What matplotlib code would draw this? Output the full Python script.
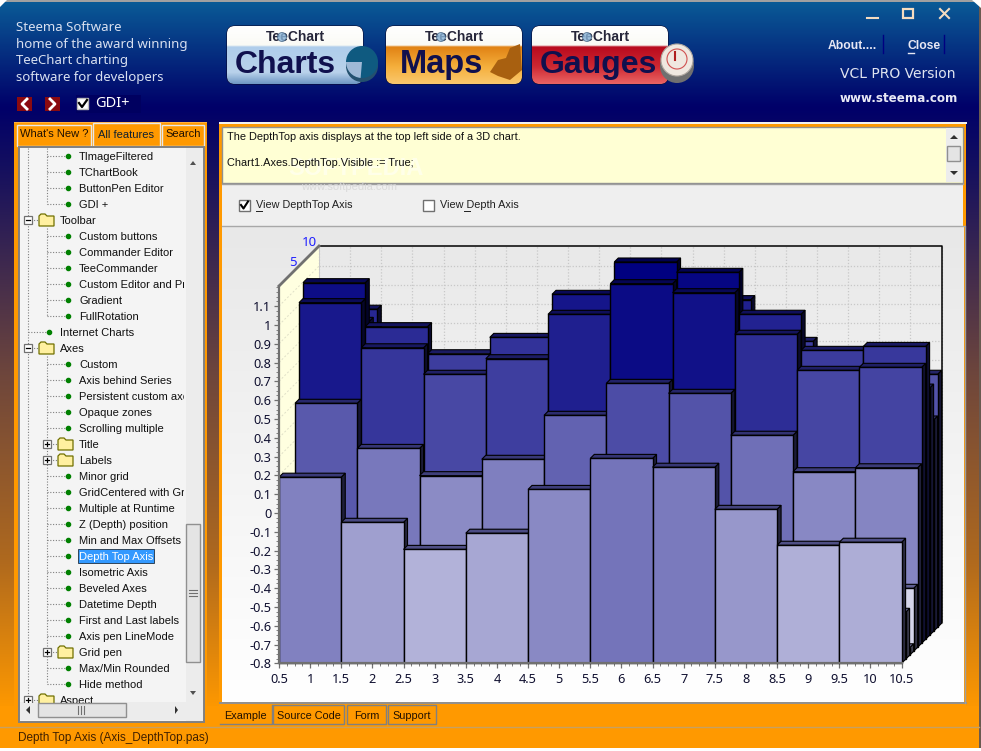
import numpy as np
import matplotlib
matplotlib.use("Agg")
import matplotlib.pyplot as plt
from matplotlib.colors import LinearSegmentedColormap, Normalize
from matplotlib.patches import Rectangle, Polygon, FancyBboxPatch, Circle, Wedge
from matplotlib.ticker import MultipleLocator, FuncFormatter

plt.rcParams['font.family'] = ['Liberation Sans', 'DejaVu Sans']

nan = float('nan')

# bar heights per depth row, front row first (nan = hidden behind the front rows)
row0 = [0.19, -0.05, -0.194, -0.108, 0.125, 0.29, 0.243, 0.019, -0.172, -0.156]
row1 = [nan, nan, nan, nan, nan, nan, nan, nan, nan, -0.55]
row2 = [nan, nan, nan, nan, nan, nan, nan, nan, nan, -0.76]
row3 = [nan, nan, nan, nan, nan, nan, nan, nan, nan, -0.465]
row4 = [0.498, 0.258, 0.113, 0.2, 0.434, 0.604, 0.551, 0.328, 0.134, 0.155]
row5 = [1.012, 0.772, 0.631, 0.714, 0.95, 1.113, 1.065, 0.844, 0.652, 0.668]
row6 = [1.097, 0.863, 0.719, 0.806, 1.035, 1.207, 1.152, 0.929, 0.737, 0.758]
row7 = [0.87, nan, nan, nan, nan, nan, nan, nan, nan, 0.515]
row8 = [nan, nan, nan, nan, nan, nan, nan, nan, nan, 0.324]
row9 = [0.892, nan, nan, nan, nan, nan, 0.943, 0.721, nan, 0.546]
rows = [row0, row1, row2, row3, row4, row5, row6, row7, row8, row9]
depth_labels = ["5", "10"]

header_lines = ["Steema Software", "home of the award winning", "TeeChart charting", "software for developers"]
tab_labels = ["What's New ?", "All features", "Search"]
page_labels = ["Example", "Source Code", "Form", "Support"]

tree_labels = ["TImageFiltered", "TChartBook", "ButtonPen Editor", "GDI +", "Toolbar", "Custom buttons",
               "Commander Editor", "TeeCommander", "Custom Editor and Preview", "Gradient", "FullRotation",
               "Internet Charts", "Axes", "Custom", "Axis behind Series", "Persistent custom axes",
               "Opaque zones", "Scrolling multiple", "Title", "Labels", "Minor grid", "GridCentered with Grid",
               "Multiple at Runtime", "Z (Depth) position", "Min and Max Offsets", "Depth Top Axis",
               "Isometric Axis", "Beveled Axes", "Datetime Depth", "First and Last labels",
               "Axis pen LineMode", "Grid pen", "Max/Min Rounded", "Hide method", "Aspect"]
folder_open = ["Toolbar", "Axes"]
folder_closed = ["Title", "Labels", "Grid pen", "Aspect"]
level_one = ["Toolbar", "Internet Charts", "Axes", "Aspect"]

W, H = 981, 751
fig = plt.figure(figsize=(W / 100, H / 100), dpi=100, facecolor='white')
ui = fig.add_axes([0, 0, 1, 1])
ui.set_xlim(0, W)
ui.set_ylim(H, 0)
ui.axis('off')


def vgrad(x0, x1, y0, y1, stops, zorder=1.5, clip=None):
    pos = [s[0] for s in stops]
    cols = np.array([s[1] for s in stops], dtype=float) / 255
    t = np.linspace(0, 1, 256)
    img = np.stack([np.interp(t, pos, cols[:, i]) for i in range(3)], axis=1)[:, None, :]
    im = ui.imshow(img, extent=(x0, x1, y1, y0), aspect='auto', zorder=zorder, interpolation='bilinear')
    if clip is not None:
        im.set_clip_path(clip)
    ui.set_xlim(0, W)
    ui.set_ylim(H, 0)


def rect(x0, y0, x1, y1, fc, ec='none', lw=1, z=1):
    ui.add_patch(Rectangle((x0, y0), x1 - x0, y1 - y0, fc=fc, ec=ec, lw=lw, zorder=z))


def label(x, y, s, size=8, color='#101010', z=5, **kw):
    kw.setdefault('va', 'center')
    return ui.text(x, y + 0.5, s, fontsize=size, color=color, zorder=z, **kw)


# window background
vgrad(0, 979, 1, 748, [(0, (10, 90, 150)), (0.14, (0, 0, 105)), (0.22, (20, 15, 95)),
                       (0.5, (110, 70, 60)), (0.75, (175, 105, 30)), (0.95, (255, 153, 0)),
                       (1, (255, 153, 0))], zorder=0.5)
rect(979, 0, 981, 751, '#6a5a50', z=0.6)
rect(0, 0, 981, 1.5, '#a0a0a0', z=0.6)
ui.add_patch(Polygon([(0, 0), (7, 0), (0, 7)], fc='white', ec='none', zorder=0.7))
ui.add_patch(Polygon([(981, 0), (972, 0), (981, 8)], fc='white', ec='none', zorder=0.7))
rect(0, 748, 981, 751, 'white', z=0.7)
rect(0, 706, 979, 748, '#ff9900', z=0.8)
ui.plot([0, 979], [727, 727], color='#c8a060', lw=1, zorder=1)

# header text
for i, s in enumerate(header_lines):
    label(16, 27 + i * 16.7, s, size=9.5, color='#d8e0f0', family='Noto Sans')

# back / forward and GDI+
for x0, pts in [(17, [(27, 99), (22, 104), (27, 109)]), (45, [(50, 99), (55, 104), (50, 109)])]:
    rect(x0, 97, x0 + 15, 111, '#8a0a10')
    ui.plot(*zip(*pts), color='white', lw=2, zorder=3)
rect(76, 95, 141, 113, '#000060')
rect(77, 98, 88, 109, 'white', ec='#bbbbbb')
ui.plot([79, 82, 87], [103, 107, 100], color='black', lw=1.6, zorder=3)
label(95, 103, "GDI+", size=10.5, color='white', family='Noto Sans')


# product buttons
def logo(x0, name, stops, name_x, name_size):
    box = FancyBboxPatch((x0, 26), 136, 58, boxstyle="round,pad=0,rounding_size=8",
                         fc='white', ec='#0a0a30', lw=0.8, zorder=2)
    ui.add_patch(box)
    vgrad(x0, x0 + 136, 26, 84, stops, zorder=2.1, clip=box)
    ui.text(x0 + 68, 37, "TeeChart", fontsize=10, fontweight='bold', color='#26263a', zorder=5, ha='center',
            va='center')
    ui.add_patch(Circle((x0 + 55, 37), 4.5, fc='#8ab4d8', ec='#406080', lw=0.6, zorder=6, alpha=0.8))
    ui.text(x0 + name_x, 65, name, fontsize=name_size, fontweight='bold', color='#10104e', zorder=5, va='center')


logo(227, "Charts", [(0, (255, 255, 255)), (0.33, (250, 250, 245)), (0.36, (175, 205, 235)),
                     (0.8, (185, 210, 235)), (1, (110, 150, 195))], 8, 23)
logo(386, "Maps", [(0, (255, 255, 255)), (0.33, (250, 250, 245)), (0.36, (225, 130, 20)),
                   (0.7, (245, 175, 60)), (1, (250, 200, 110))], 14, 23.5)
logo(532, "Gauges", [(0, (255, 255, 255)), (0.33, (250, 250, 245)), (0.36, (185, 10, 30)),
                     (0.7, (205, 40, 50)), (1, (235, 100, 100))], 8, 23)
# pie on the Charts button
ui.add_patch(Wedge((362, 66), 16, 0, 360, fc='#24506e', ec='none', zorder=4))
ui.add_patch(Wedge((362, 62), 16, 0, 360, fc='#0f5a80', ec='none', zorder=4.1))
ui.add_patch(Wedge((362, 62), 16, 95, 180, fc='#9fb9d6', ec='none', zorder=4.2))
# map shapes on the Maps button
ui.add_patch(Polygon([(490, 72), (498, 60), (506, 58), (510, 48), (520, 44), (522, 70), (510, 80), (498, 76)],
                     fc='#a86010', ec='none', zorder=4))
# gauge on the Gauges button
ui.add_patch(Circle((677, 66), 17, fc='#707070', ec='none', zorder=4))
ui.add_patch(Circle((677, 60), 16, fc='#f0e8e0', ec='#b0a8a0', lw=0.8, zorder=4.1))
ui.add_patch(Circle((677, 59), 10, fc='none', ec='#d05050', lw=0.8, zorder=4.2))
ui.plot([675, 675], [52, 60], color='#b02020', lw=1.5, zorder=4.3)

# window buttons and links
ui.plot([867, 878], [18, 18], color='#f5dcc0', lw=1.5, zorder=5)
ui.add_patch(Rectangle((903, 9), 9.5, 9, fc='none', ec='#f5dcc0', lw=1.6, zorder=5))
ui.plot([940, 949], [9, 18], color='#f5dcc0', lw=1.5, zorder=5)
ui.plot([940, 949], [18, 9], color='#f5dcc0', lw=1.5, zorder=5)
label(828, 45.5, "About....", size=8.7, color='#e8e8f4', fontweight='bold')
label(907, 45.5, "Close", size=8.7, color='#e8e8f4', fontweight='bold')
ui.plot([907.5, 914], [52.5, 52.5], color='#e8e8f4', lw=1, zorder=5)
ui.plot([882.5, 882.5], [35, 53], color='#000080', lw=1, zorder=5)
ui.plot([943.5, 943.5], [35, 53], color='#000080', lw=1, zorder=5)
label(840, 73, "VCL PRO Version", size=10, color='#e0e4f0', family='DejaVu Sans')
label(840, 97.5, "www.steema.com", size=8.6, color='#e8e8f4', fontweight='bold', family='DejaVu Sans')

# left panel
rect(14, 122, 207, 726, '#ff9900', z=1)
rect(14, 122, 207, 123, '#ffb040', z=1.1)
for (x0, x1), s, on in zip([(17, 91), (93, 160), (162, 204)], tab_labels, [False, True, False]):
    rect(x0, 125 - (2 if on else 0), x1, 146, '#ff9900', ec='#e8e8e8', z=1.2)
    label((x0 + x1) / 2, 133.5 if not on else 134, s, size=8, color='#201000' if not on else '#102030', ha='center')
rect(19, 147, 204, 722, '#f4f4f4', ec='#808080', lw=1.4, z=1.3)
rect(186, 148, 203, 721, '#ececec', z=1.4)
rect(20, 702, 186, 720, '#ececec', z=1.4)

tree_clip = Rectangle((20, 148), 164, 555, transform=ui.transData)
for i, s in enumerate(tree_labels):
    y = 156 + 16 * i
    one = s in level_one
    tx = 60 if one else 79
    vx = 28 if one else 47
    t = label(tx, y, s, size=8, color='#101010' if s != "Depth Top Axis" else 'white', z=3)
    t.set_clip_on(True)
    t.set_clip_path(tree_clip)
    ui.plot([vx, tx - 7], [y, y], color='#808080', lw=0.8, ls=(0, (1, 1.5)), zorder=1.6, clip_on=True)
    if s in folder_open or s in folder_closed:
        fx = vx + 11
        ui.add_patch(Polygon([(fx, y - 4), (fx + 2, y - 6), (fx + 6, y - 6), (fx + 8, y - 4), (fx + 15, y - 4),
                              (fx + 15, y + 6), (fx, y + 6)], fc='#fff0a0', ec='#707000', lw=0.9, zorder=2))
        ui.add_patch(Rectangle((vx - 4, y - 4), 8, 8, fc='white', ec='#707070', lw=0.9, zorder=2))
        ui.plot([vx - 2, vx + 2], [y, y], color='black', lw=0.9, zorder=2.1)
        if s in folder_closed:
            ui.plot([vx, vx], [y - 2, y + 2], color='black', lw=0.9, zorder=2.1)
    else:
        ui.plot([tx - 11], [y], 'o', color='#008000', ms=3, zorder=2)
for x, y0, y1 in [(28, 148, 696), (47, 148, 204), (47, 228, 316), (47, 356, 684)]:
    ui.plot([x, x], [y0, y1], color='#808080', lw=0.8, ls=(0, (1, 1.5)), zorder=1.6)
rect(78, 549, 153.5, 563, '#3399ff', ec='#203040', lw=0.6, z=2.5)

# tree scrollbars
ui.add_patch(Polygon([(190, 165), (193, 161), (196, 165)], fc='#505050', ec='none', zorder=4))
ui.add_patch(Polygon([(190, 691), (193, 695), (196, 691)], fc='#505050', ec='none', zorder=4))
rect(186, 524, 200, 662, '#e4e4e4', ec='#909090', z=4)
for y in (590, 593, 596):
    ui.plot([189, 197], [y, y], color='#707070', lw=0.8, zorder=4.1)
rect(20, 703, 184, 720, '#ececec', z=4)
rect(38, 703, 126, 717, '#e4e4e4', ec='#909090', z=4.1)
for x in (78, 81, 84):
    ui.plot([x, x], [706, 714], color='#707070', lw=0.8, zorder=4.2)
ui.add_patch(Polygon([(30, 706), (26, 710), (30, 714)], fc='#303030', ec='none', zorder=4.1))
ui.add_patch(Polygon([(175, 706), (178, 710), (175, 714)], fc='#303030', ec='none', zorder=4.1))
label(18, 738, "Depth Top Axis (Axis_DepthTop.pas)", size=8.5, color='#402000')

# right panel
rect(219, 122, 966, 706, '#ff9900', z=1)
rect(219, 122, 967, 123.5, '#f0f0f0', z=1.1)
rect(222, 127, 963, 183, '#ffffd4', ec='#909090', z=1.2)
rect(946, 128, 962, 182, '#ececec', z=1.3)
rect(947, 146, 960, 161, '#e4e4e4', ec='#909090', z=1.4)
ui.add_patch(Polygon([(950, 139), (954, 135), (958, 139)], fc='#303030', ec='none', zorder=1.5))
ui.add_patch(Polygon([(950, 171), (954, 175), (958, 171)], fc='#303030', ec='none', zorder=1.5))
label(227, 136, "The DepthTop axis displays at the top left side of a 3D chart.", size=7.9)
label(227, 162, "Chart1.Axes.DepthTop.Visible := True;", size=7.9)
label(288, 168, "SOFTPEDIA", size=17, color='#ffffff', fontweight='bold', alpha=0.5, z=4)
rect(222, 184, 963, 226, '#efefef', z=1.2)
ui.plot([222, 963], [183.5, 183.5], color='#a0a0a0', lw=1, zorder=1.3)
label(349, 187, "www.softpedia.com", size=8, color='#d8d8d8', ha='center', alpha=0.9)
for x0, s, checked, ux in [(239, "View DepthTop Axis", True, 255.5), (423, "View Depth Axis", False, 464)]:
    rect(x0, 199.5, x0 + 11, 211, 'white', ec='#707070', z=2)
    if checked:
        ui.plot([x0 + 2, x0 + 4.5, x0 + 9], [205, 208.5, 201.5], color='black', lw=1.5, zorder=3)
    label(x0 + 16.5, 205, s, size=7.8, color='#202020')
    ui.plot([ux, ux + 6], [211, 211], color='#202020', lw=0.7, zorder=5)
vgrad(222, 964, 226, 702, [(0, (232, 232, 232)), (1, (255, 255, 255))], zorder=1.2)
ui.plot([222, 964], [225.5, 225.5], color='#a8a8a8', lw=1, zorder=1.3)
ui.plot([220, 966], [703, 703], color='#909090', lw=1.4, zorder=1.3)
ui.plot([964.5, 964.5], [226, 703], color='#a0a0a0', lw=1, zorder=1.3)

for (x0, x1), s, on in zip([(220, 272), (273, 344), (347, 386), (388, 436)], page_labels, [True, False, False, False]):
    if on:
        ui.plot([x0, x1, x1], [724, 724, 705], color='#808080', lw=1, zorder=2)
    else:
        ui.add_patch(Rectangle((x0, 705), x1 - x0, 18.5, fc='#ff9900', ec='#808080', lw=1, zorder=2))
    label((x0 + x1) / 2 - (1 if on else 0), 715.5, s, size=7.8, color='#201000', ha='center')

# chart, front plane in data units
x0_px, x1_px, y_bot, y_top = 279, 901.6, 663.3, 286
y_min, y_max = -0.8, 1.207
ax = fig.add_axes([x0_px / W, 1 - y_bot / H, (x1_px - x0_px) / W, (y_bot - y_top) / H])
ax.set_zorder(2)
ax.patch.set_visible(False)
ax.set_xlim(0.5, 10.5)
ax.set_ylim(y_min, y_max)
step_x = 10 / (x1_px - x0_px)
step_y = (y_max - y_min) / (y_bot - y_top)
dx = 4 * step_x
dy = 4 * step_y
wall = 40

cmap = LinearSegmentedColormap.from_list("tee", ['white', '#000080'])
norm = Normalize(-0.8, 1.2)

# back wall and left wall
wx, wy = wall * step_x, wall * step_y
ax.add_patch(Polygon([(0.5, y_min), (0.5 + wx, y_min + wy), (0.5 + wx, y_max + wy), (0.5, y_max)],
                     fc='#ffffe0', ec='none', clip_on=False, zorder=1))
for v in np.arange(0.5, 10.51, 0.5):
    ax.plot([v + wx, v + wx], [y_min + wy, y_max + wy], color='#c8c8c8', lw=0.9, ls=(0, (1, 1.5)), clip_on=False, zorder=1.1)
for v in np.arange(-0.8, 1.11, 0.1):
    ax.plot([0.5 + wx, 10.5 + wx], [v + wy, v + wy], color='#c8c8c8', lw=0.9, ls=(0, (1, 1.5)), clip_on=False, zorder=1.1)
    ax.plot([0.5, 0.5 + wx], [v, v + wy], color='#e0e0c8', lw=0.7, ls=(0, (2, 2)), clip_on=False, zorder=1.1)
ax.plot([0.5 + wx, 10.5 + wx, 10.5 + wx], [y_max + wy, y_max + wy, y_min + wy], color='black', lw=1.1, clip_on=False, zorder=1.2)
ax.plot([0.5 + wx, 0.5 + wx], [y_max + wy, y_min + wy], color='#c8c8c8', lw=0.7, clip_on=False, zorder=1.1)
ax.plot([10.5, 10.5 + wx], [y_min, y_min + wy], color='white', lw=1.2, clip_on=False, zorder=1.2)
ax.plot([0.5, 0.5 + wx], [y_max, y_max + wy], color='#707070', lw=2, clip_on=False, zorder=1.3)
for s, frac in zip(depth_labels, [0.5, 1.0]):
    off = frac * wall
    ax.text(0.5 + off * step_x - 2.5 * step_x, y_max + off * step_y + 3 * step_y, s, color='#2020ff', fontsize=9.5,
            ha='right', va='center', clip_on=False, zorder=1.4, family='Noto Sans')

# bars, back row first, left to right
zo = 2
for k in range(len(rows) - 1, -1, -1):
    ox, oy = k * dx, k * dy
    for i, val in enumerate(rows[k]):
        if np.isnan(val):
            continue
        l = i + 0.5 + ox
        r = l + 1
        b = y_min + oy
        t = val + oy
        c = np.array(cmap(norm(val))[:3])
        top_c = c * [0.45, 0.45, 0.62]
        side_c = c * [0.24, 0.24, 0.3]
        ax.add_patch(Polygon([(r, b), (r + dx, b + dy), (r + dx, t + dy), (r, t)], fc=side_c, ec='black', lw=0.8,
                             clip_on=False, zorder=zo, joinstyle='miter'))
        ax.add_patch(Polygon([(l, t), (r, t), (r + dx, t + dy), (l + dx, t + dy)], fc=top_c, ec='black', lw=0.8,
                             clip_on=False, zorder=zo + 0.1, joinstyle='miter'))
        ax.add_patch(Rectangle((l, b), 1, t - b, fc=c, ec='black', lw=1, clip_on=False, zorder=zo + 0.2))
        zo += 0.3

for sp in ('top', 'right'):
    ax.spines[sp].set_visible(False)
for sp in ('left', 'bottom'):
    ax.spines[sp].set_color('#707070')
    ax.spines[sp].set_linewidth(1.6)
    ax.spines[sp].set_zorder(100)
fmt = FuncFormatter(lambda v, p: f"{v:.1f}".rstrip('0').rstrip('.') if abs(v) > 1e-6 else "0")
ax.xaxis.set_major_locator(MultipleLocator(0.5))
ax.xaxis.set_minor_locator(MultipleLocator(0.125))
ax.xaxis.set_major_formatter(fmt)
ax.yaxis.set_major_formatter(fmt)
ax.tick_params(which='major', length=3.5, width=0.9, color='#707070', labelsize=9.2, labelcolor='#101030', pad=2)
ax.tick_params(which='minor', length=2, width=0.7, color='#808080')
ax.tick_params(axis='x', which='major', pad=3.5)
ax.set_yticks(np.arange(-0.8, 1.11, 0.1))
ax.set_yticks(np.arange(-0.8, 1.207, 0.025), minor=True)
for tl in ax.get_xticklabels() + ax.get_yticklabels():
    tl.set_family('Noto Sans')

fig.savefig("out.png", dpi=100)
